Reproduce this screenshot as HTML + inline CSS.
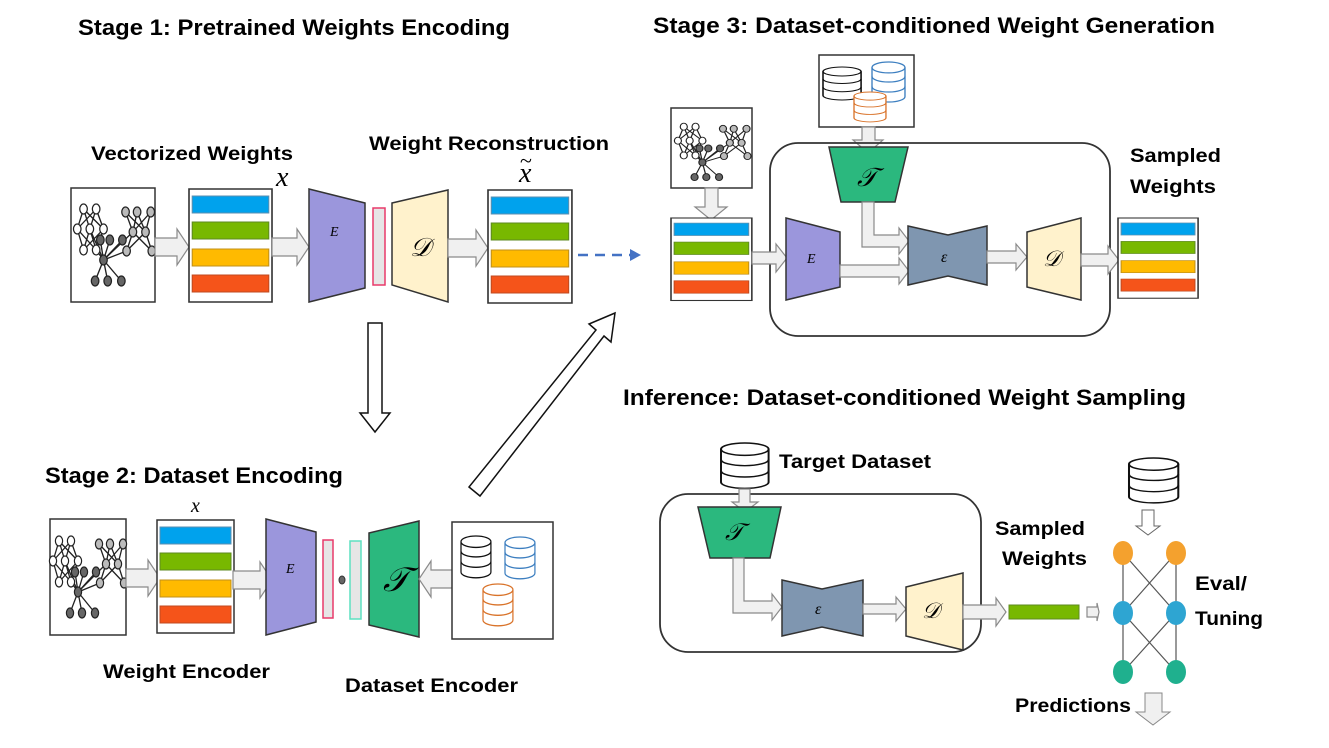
<!DOCTYPE html>
<html><head><meta charset="utf-8"><style>
html,body{margin:0;padding:0;background:#fff;}
svg{display:block}
.t{font-family:"Liberation Sans",sans-serif;font-weight:bold;fill:#000}
.m{font-family:"Liberation Serif",serif;font-style:italic;fill:#000}
.ar{fill:#f0f0f0;stroke:#8a8a8a;stroke-width:1.2}
</style></head><body>
<svg width="1329" height="748" viewBox="0 0 1329 748" xmlns="http://www.w3.org/2000/svg">
<defs>
<g id="net">
 <g stroke="#222" stroke-width="1.3" fill="none">
  <path d="M11,21L5,41M11,21L17,41M11,21L30,41M23,21L5,41M23,21L17,41M23,21L30,41M5,41L11,62M5,41L23,62M17,41L11,62M17,41L23,62M30,41L11,62M30,41L23,62"/>
  <path d="M51,24L58,44M51,24L70,44M62,24L58,44M62,24L70,44M75,24L58,44M75,24L70,44M58,44L52,63M58,44L76,63M70,44L52,63M70,44L76,63"/>
  <path d="M30,72L27,52M30,72L36,52M30,72L48,52M30,72L23,62M30,72L52,63M30,72L58,44M30,72L22,93M30,72L34,93M30,72L47,93M30,72L17,41"/>
 </g>
 <g stroke="#222" stroke-width="1.2" fill="#fff">
  <ellipse cx="11" cy="21" rx="3.6" ry="5"/><ellipse cx="23" cy="21" rx="3.6" ry="5"/>
  <ellipse cx="5" cy="41" rx="3.6" ry="5"/><ellipse cx="17" cy="41" rx="3.6" ry="5"/><ellipse cx="30" cy="41" rx="3.6" ry="5"/>
  <ellipse cx="11" cy="62" rx="3.6" ry="5"/><ellipse cx="23" cy="62" rx="3.6" ry="5"/>
 </g>
 <g stroke="#222" stroke-width="1.2" fill="#bbb">
  <ellipse cx="51" cy="24" rx="3.6" ry="5"/><ellipse cx="62" cy="24" rx="3.6" ry="5"/><ellipse cx="75" cy="24" rx="3.6" ry="5"/>
  <ellipse cx="58" cy="44" rx="3.6" ry="5"/><ellipse cx="70" cy="44" rx="3.6" ry="5"/>
  <ellipse cx="52" cy="63" rx="3.6" ry="5"/><ellipse cx="76" cy="63" rx="3.6" ry="5"/>
 </g>
 <g stroke="#222" stroke-width="1.2" fill="#666">
  <ellipse cx="27" cy="52" rx="3.6" ry="5"/><ellipse cx="36" cy="52" rx="3.6" ry="5"/><ellipse cx="48" cy="52" rx="3.6" ry="5"/>
  <ellipse cx="30" cy="72" rx="3.6" ry="5"/>
  <ellipse cx="22" cy="93" rx="3.6" ry="5"/><ellipse cx="34" cy="93" rx="3.6" ry="5"/><ellipse cx="47" cy="93" rx="3.6" ry="5"/>
 </g>
</g>
<g id="stack">
 <rect x="0" y="0" width="77" height="113" fill="#fff" stroke="#333" stroke-width="1.5"/>
 <rect x="3" y="7" width="71" height="17" fill="#00a2ed" stroke="#5b8fb0" stroke-width="1"/>
 <rect x="3" y="33" width="71" height="17" fill="#78b800" stroke="#5e8a20" stroke-width="1"/>
 <rect x="3" y="60" width="71" height="17" fill="#ffba00" stroke="#c0901a" stroke-width="1"/>
 <rect x="3" y="86" width="71" height="17" fill="#f5541a" stroke="#c04a20" stroke-width="1"/>
</g>
<g id="db" fill="#fff" stroke-width="1.4">
 <path d="M0,6 L0,38 A17,6 0 0 0 34,38 L34,6"/>
 <ellipse cx="17" cy="6" rx="17" ry="6"/>
 <path d="M0,16 A17,6 0 0 0 34,16 M0,27 A17,6 0 0 0 34,27" fill="none"/>
</g>
</defs>

<!-- Titles -->
<text class="t" x="78" y="35" font-size="22" textLength="432" lengthAdjust="spacingAndGlyphs">Stage 1: Pretrained Weights Encoding</text>
<text class="t" x="653" y="33" font-size="22" textLength="562" lengthAdjust="spacingAndGlyphs">Stage 3: Dataset-conditioned Weight Generation</text>
<text class="t" x="45" y="483" font-size="22" textLength="298" lengthAdjust="spacingAndGlyphs">Stage 2: Dataset Encoding</text>
<text class="t" x="623" y="405" font-size="22" textLength="563" lengthAdjust="spacingAndGlyphs">Inference: Dataset-conditioned Weight Sampling</text>

<!-- Stage 1 -->
<text class="t" x="91" y="160" font-size="19" textLength="202" lengthAdjust="spacingAndGlyphs">Vectorized Weights</text>
<text class="t" x="369" y="150" font-size="19" textLength="240" lengthAdjust="spacingAndGlyphs">Weight Reconstruction</text>
<rect x="71" y="188" width="84" height="114" fill="#fff" stroke="#333" stroke-width="1.5"/>
<use href="#net" transform="translate(72,188) scale(1.05,1)"/>
<polygon class="ar" points="155,238 177,238 177,229 189,247 177,265 177,256 155,256"/>
<use href="#stack" transform="translate(189,189) scale(1.078,1)"/>
<text class="m" x="276" y="186" font-size="28">x</text>
<polygon class="ar" points="272,238 297,238 297,229 309,247 297,265 297,256 272,256"/>
<polygon points="309,189 365,203 365,288 309,302" fill="#9b96dc" stroke="#333" stroke-width="1.5"/>
<text class="m" x="330" y="236" font-size="14">E</text>
<rect x="373" y="208" width="12" height="77" fill="#e6e6e6" stroke="#e83a6a" stroke-width="1.5"/>
<polygon points="392,203 448,190 448,302 392,285" fill="#fff2cc" stroke="#333" stroke-width="1.5"/>
<text class="m" x="410" y="256" font-size="26">𝒟</text>
<polygon class="ar" points="448,239 476,239 476,230 488,248 476,266 476,257 448,257"/>
<use href="#stack" transform="translate(488,190) scale(1.09,1)"/>
<text class="m" x="519" y="182" font-size="28">x</text>
<text x="520" y="168" font-size="22" font-family="Liberation Serif,serif">~</text>
<line x1="578" y1="255" x2="630" y2="255" stroke="#4472c4" stroke-width="2.5" stroke-dasharray="10,7"/>
<polygon points="630,249 641,255 630,261" fill="#4472c4"/>

<!-- down hollow arrow -->
<polygon points="368,323 382,323 382,413 390,413 375,432 360,413 368,413" fill="#fff" stroke="#111" stroke-width="1.5"/>
<!-- diagonal hollow arrow -->
<polygon points="469,487 480,496 604,336 611,342 615,313 589,324 596,330" fill="#fff" stroke="#111" stroke-width="1.5"/>

<!-- Stage 2 -->
<rect x="50" y="519" width="76" height="116" fill="#fff" stroke="#333" stroke-width="1.5"/>
<use href="#net" x="48" y="520"/>
<polygon class="ar" points="126,569 148,569 148,560 160,578 148,596 148,587 126,587"/>
<use href="#stack" x="157" y="520"/>
<text class="m" x="191" y="512" font-size="20">x</text>
<polygon class="ar" points="233,571 260,571 260,562 272,580 260,598 260,589 233,589"/>
<polygon points="266,519 316,532 316,622 266,635" fill="#9b96dc" stroke="#333" stroke-width="1.5"/>
<text class="m" x="286" y="573" font-size="14">E</text>
<rect x="323" y="540" width="10" height="78" fill="#e6e6e6" stroke="#e83a6a" stroke-width="1.5"/>
<ellipse cx="342" cy="580" rx="3" ry="4" fill="#666" stroke="#333"/>
<rect x="350" y="541" width="11" height="78" fill="#e6e6e6" stroke="#5de0c0" stroke-width="1.5"/>
<polygon points="369,533 419,521 419,637 369,625" fill="#2bb87e" stroke="#333" stroke-width="1.5"/>
<text class="m" x="383" y="591" font-size="34">𝒯</text>
<polygon class="ar" points="453,570 431,570 431,561 419,579 431,597 431,588 453,588"/>
<rect x="452" y="522" width="101" height="117" fill="#fff" stroke="#333" stroke-width="1.5"/>
<use href="#db" stroke="#111" transform="translate(461,536) scale(0.88,0.95)"/>
<use href="#db" stroke="#3d7fc0" transform="translate(505,537) scale(0.88,0.95)"/>
<use href="#db" stroke="#d9732a" transform="translate(483,584) scale(0.88,0.95)"/>
<text class="t" x="103" y="678" font-size="19" textLength="167" lengthAdjust="spacingAndGlyphs">Weight Encoder</text>
<text class="t" x="345" y="692" font-size="19" textLength="173" lengthAdjust="spacingAndGlyphs">Dataset Encoder</text>

<!-- Stage 3 -->
<rect x="819" y="55" width="95" height="72" fill="#fff" stroke="#333" stroke-width="1.5"/>
<use href="#db" stroke="#111" transform="translate(823,67) scale(1.12,0.75)"/>
<use href="#db" stroke="#3d7fc0" transform="translate(872,62) scale(0.97,0.91)"/>
<use href="#db" stroke="#d9732a" transform="translate(854,92) scale(0.94,0.68)"/>
<polygon class="ar" points="862,127 875,127 875,140 883,140 868,153 853,140 862,140"/>
<rect x="671" y="108" width="81" height="80" fill="#fff" stroke="#333" stroke-width="1.5"/>
<use href="#net" transform="translate(673,112) scale(0.98,0.7)"/>
<polygon class="ar" points="705,188 718,188 718,207 727,207 711,220 695,207 705,207"/>
<use href="#stack" transform="translate(671,218) scale(1.05,0.73)"/>
<rect x="770" y="143" width="340" height="193" rx="28" fill="none" stroke="#333" stroke-width="1.8"/>
<polygon class="ar" points="752,252 776,252 776,244 787,258 776,272 776,264 752,264"/>
<polygon points="786,218 840,232 840,287 786,300" fill="#9b96dc" stroke="#333" stroke-width="1.5"/>
<text class="m" x="807" y="263" font-size="14">E</text>
<polygon points="829,147 908,147 895,202 841,202" fill="#2bb87e" stroke="#333" stroke-width="1.5"/>
<text class="m" x="857" y="186" font-size="26">𝒯</text>
<polygon class="ar" points="862,202 874,202 874,235 899,235 899,228 909,241 899,254 899,247 862,247"/>
<polygon class="ar" points="840,265 899,265 899,258 909,271 899,284 899,277 840,277"/>
<polygon points="908,226 948,235 987,226 987,285 948,276 908,285" fill="#7f96b0" stroke="#333" stroke-width="1.5"/>
<text class="m" x="941" y="262" font-size="16">ε</text>
<polygon class="ar" points="987,251 1016,251 1016,244 1027,257 1016,270 1016,263 987,263"/>
<polygon points="1027,232 1081,218 1081,300 1027,287" fill="#fff2cc" stroke="#333" stroke-width="1.5"/>
<text class="m" x="1043" y="266" font-size="22">𝒟</text>
<polygon class="ar" points="1081,254 1108,254 1108,246 1119,260 1108,274 1108,266 1081,266"/>
<use href="#stack" transform="translate(1118,218) scale(1.04,0.71)"/>
<text class="t" x="1130" y="162" font-size="19" textLength="91" lengthAdjust="spacingAndGlyphs">Sampled</text>
<text class="t" x="1130" y="193" font-size="19" textLength="86" lengthAdjust="spacingAndGlyphs">Weights</text>

<!-- Inference -->
<use href="#db" stroke="#111" transform="translate(721,443) scale(1.4,1.03)"/>
<text class="t" x="779" y="468" font-size="19" textLength="152" lengthAdjust="spacingAndGlyphs">Target Dataset</text>
<rect x="660" y="494" width="321" height="158" rx="28" fill="none" stroke="#333" stroke-width="1.8"/>
<polygon class="ar" points="739,489 750,489 750,502 758,502 745,512 732,502 739,502"/>
<polygon points="698,507 781,507 770,558 710,558" fill="#2bb87e" stroke="#333" stroke-width="1.5"/>
<text class="m" x="725" y="540" font-size="24">𝒯</text>
<polygon class="ar" points="733,558 744,558 744,601 772,601 772,594 782,607 772,620 772,613 733,613"/>
<polygon points="782,580 822,589 863,580 863,636 822,627 782,636" fill="#7f96b0" stroke="#333" stroke-width="1.5"/>
<text class="m" x="815" y="614" font-size="16">ε</text>
<polygon class="ar" points="863,604 896,604 896,597 906,609 896,621 896,614 863,614"/>
<polygon points="906,587 963,573 963,650 906,636" fill="#fff2cc" stroke="#333" stroke-width="1.5"/>
<text class="m" x="922" y="618" font-size="22">𝒟</text>
<polygon class="ar" points="963,605 996,605 996,598 1006,612 996,626 996,619 963,619"/>
<rect x="1009" y="605" width="70" height="14" fill="#78b800" stroke="#5e8a20"/>
<polygon class="ar" points="1087,607 1097,607 1097,603 1099,612 1097,621 1097,617 1087,617"/>
<text class="t" x="995" y="535" font-size="19" textLength="90" lengthAdjust="spacingAndGlyphs">Sampled</text>
<text class="t" x="1002" y="565" font-size="19" textLength="85" lengthAdjust="spacingAndGlyphs">Weights</text>
<use href="#db" stroke="#111" transform="translate(1129,458) scale(1.45,1.02)"/>
<polygon points="1142,510 1154,510 1154,526 1160,526 1148,535 1136,526 1142,526" fill="#fff" stroke="#666"/>
<g stroke="#555" stroke-width="1.2">
 <line x1="1123" y1="553" x2="1123" y2="672"/><line x1="1176" y1="553" x2="1176" y2="672"/>
 <line x1="1123" y1="553" x2="1176" y2="613"/><line x1="1176" y1="553" x2="1123" y2="613"/>
 <line x1="1123" y1="613" x2="1176" y2="672"/><line x1="1176" y1="613" x2="1123" y2="672"/>
</g>
<ellipse cx="1123" cy="553" rx="10" ry="12" fill="#f4a12e"/><ellipse cx="1176" cy="553" rx="10" ry="12" fill="#f4a12e"/>
<ellipse cx="1123" cy="613" rx="10" ry="12" fill="#2ea5d2"/><ellipse cx="1176" cy="613" rx="10" ry="12" fill="#2ea5d2"/>
<ellipse cx="1123" cy="672" rx="10" ry="12" fill="#1fb08e"/><ellipse cx="1176" cy="672" rx="10" ry="12" fill="#1fb08e"/>
<text class="t" x="1195" y="590" font-size="19" textLength="52" lengthAdjust="spacingAndGlyphs">Eval/</text>
<text class="t" x="1195" y="625" font-size="19" textLength="68" lengthAdjust="spacingAndGlyphs">Tuning</text>
<text class="t" x="1015" y="712" font-size="19" textLength="116" lengthAdjust="spacingAndGlyphs">Predictions</text>
<polygon points="1145,693 1162,693 1162,712 1170,712 1153,725 1136,712 1145,712" fill="#f0f0f0" stroke="#888"/>
</svg>
</body></html>
